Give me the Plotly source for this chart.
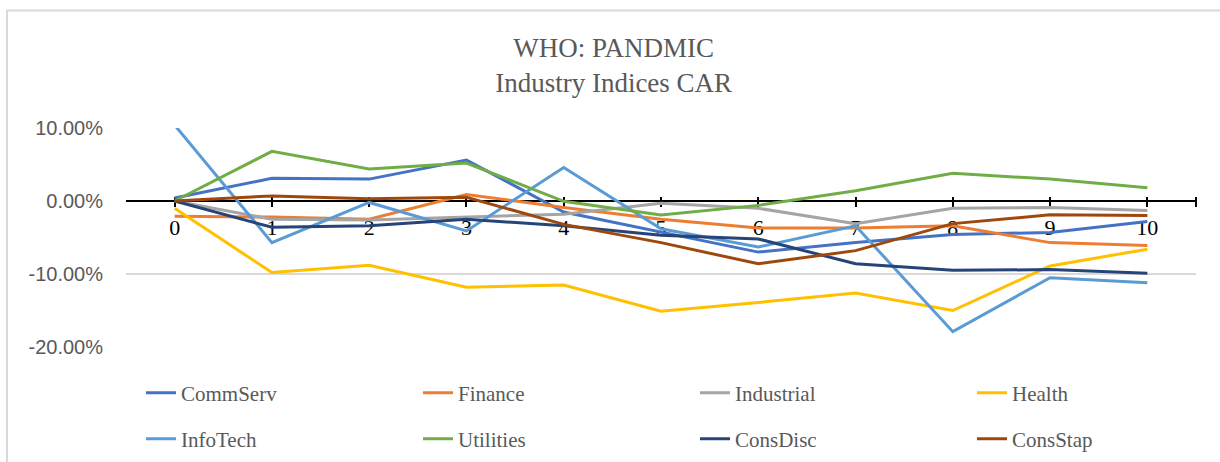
import plotly.graph_objects as go

# ---- data (CAR, in percent) ----
categories = [0, 1, 2, 3, 4, 5, 6, 7, 8, 9, 10]
x_labels = ["0", "1", "2", "3", "4", "5", "6", "7", "8", "9", "10"]

comm_serv = [0.4, 3.1, 3.0, 5.6, -1.5, -4.3, -7.0, -5.7, -4.6, -4.3, -2.8]
finance = [-2.1, -2.2, -2.5, 0.9, -0.9, -2.5, -3.7, -3.7, -3.4, -5.7, -6.1]
industrial = [0.0, -2.5, -2.6, -2.2, -1.8, -0.3, -1.0, -3.1, -1.0, -0.9, -1.3]
health = [-1.0, -9.8, -8.8, -11.8, -11.5, -15.1, -13.9, -12.6, -15.0, -8.9, -6.6]
info_tech = [10.4, -5.7, -0.2, -4.1, 4.6, -3.8, -6.3, -3.4, -17.9, -10.5, -11.2]
utilities = [0.0, 6.8, 4.4, 5.2, -0.05, -1.9, -0.6, 1.4, 3.8, 3.0, 1.8]
cons_disc = [0.0, -3.6, -3.4, -2.5, -3.4, -4.7, -5.2, -8.6, -9.5, -9.4, -9.9]
cons_stap = [0.0, 0.7, 0.3, 0.5, -3.2, -5.7, -8.6, -6.8, -3.1, -1.9, -2.0]

series_names = ["CommServ", "Finance", "Industrial", "Health",
                "InfoTech", "Utilities", "ConsDisc", "ConsStap"]
series_values = [comm_serv, finance, industrial, health,
                 info_tech, utilities, cons_disc, cons_stap]
series_colors = ["#4472C4", "#ED7D31", "#A5A5A5", "#FFC000",
                 "#5B9BD5", "#70AD47", "#264478", "#9E480E"]

y_tickvals = [10, 0, -10, -20]
y_ticktext = ["10.00%", "0.00%", "-10.00%", "-20.00%"]

# ---- layout geometry ----
W, H = 1220, 462
ML, MR, MT, MB = 126, 24, 128, 115
PW, PH = W - ML - MR, H - MT - MB
Y_MIN, Y_MAX = -20, 10
PLOT_BOTTOM = MT + PH
LEG_X0, LEG_DX = 141, 277
LEG_ROWS = [393, 439]

fig = go.Figure()
legend_layout = {}
for i, (name, vals, col) in enumerate(zip(series_names, series_values, series_colors)):
    key = "legend" if i == 0 else f"legend{i + 1}"
    fig.add_trace(go.Scatter(
        x=categories, y=vals, name=name, mode="lines",
        line=dict(color=col, width=3),
        legend=key,
    ))
    row, colm = divmod(i, 4)
    legend_layout[key] = dict(
        orientation="h",
        x=(LEG_X0 + LEG_DX * colm - ML) / PW, xanchor="left",
        y=-(LEG_ROWS[row] - PLOT_BOTTOM) / PH, yanchor="middle",
        font=dict(family="Liberation Serif", size=21, color="#595959"),
        bgcolor="rgba(0,0,0,0)",
    )

zero_frac = (0 - Y_MIN) / (Y_MAX - Y_MIN)

fig.update_layout(
    width=W, height=H,
    margin=dict(l=ML, r=MR, t=MT, b=MB, autoexpand=False),
    paper_bgcolor="white", plot_bgcolor="white",
    title=dict(
        text="WHO: PANDMIC<br>Industry Indices CAR",
        x=0.503, xref="container", xanchor="center",
        y=1 - 57 / H, yref="container", yanchor="top",
        font=dict(family="Liberation Serif", size=27, color="#595959"),
    ),
    xaxis=dict(
        range=[-0.5, 10.5],
        anchor="free", position=zero_frac + 5 / PH,
        tickmode="array",
        tickvals=categories + [10.5],
        ticktext=x_labels + [""],
        ticks="outside", ticklen=10, tickwidth=2, tickcolor="black",
        showline=False, showgrid=False, zeroline=False,
        tickfont=dict(family="Liberation Serif", size=22, color="black"),
        ticklabelstandoff=2,
        layer="below traces",
    ),
    yaxis=dict(
        range=[Y_MIN, Y_MAX],
        tickmode="array", tickvals=y_tickvals, ticktext=y_ticktext,
        showgrid=True, gridcolor="#D9D9D9", gridwidth=1.5,
        zeroline=True, zerolinecolor="black", zerolinewidth=2,
        showline=False, ticks="",
        tickfont=dict(family="Liberation Sans", size=20, color="#595959"),
        ticklabelstandoff=22,
        layer="below traces",
    ),
    shapes=[dict(
        type="rect", xref="paper", yref="paper",
        x0=(7 - ML) / PW, x1=(W + 20 - ML) / PW,
        y0=-(H + 20 - PLOT_BOTTOM) / PH, y1=(PLOT_BOTTOM - 10.5) / PH,
        line=dict(color="#D9D9D9", width=2), fillcolor="rgba(0,0,0,0)",
        layer="below",
    )],
    showlegend=True,
    **legend_layout,
)

fig.write_html(
    "out.html",
    config={"displayModeBar": False},
    post_script="document.body.style.margin='0';document.body.style.overflow='hidden';",
)
